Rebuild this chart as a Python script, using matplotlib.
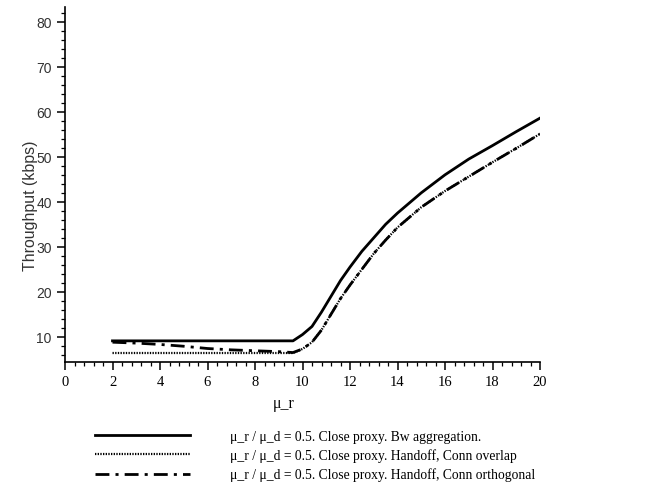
import matplotlib.pyplot as plt
from matplotlib.ticker import MultipleLocator

# mu_r sample points
mu_r = [2, 3, 4, 5, 6, 7, 8, 9, 9.6, 10, 10.4, 10.8, 11.2, 11.6, 12, 12.5,
        13, 13.5, 14, 15, 16, 17, 18, 19, 20]

# throughput (kbps) for the three schemes
bw_aggregation = [9.1, 9.1, 9.1, 9.1, 9.1, 9.1, 9.1, 9.1, 9.1, 10.5, 12.3,
                  15.5, 19.0, 22.5, 25.5, 29.0, 32.0, 35.0, 37.5, 42.0,
                  46.0, 49.5, 52.5, 55.6, 58.6]
conn_overlap = [6.4, 6.4, 6.4, 6.4, 6.4, 6.4, 6.4, 6.4, 6.4, 7.3, 8.8,
                11.5, 15.0, 18.5, 21.5, 25.0, 28.5, 31.5, 34.3, 38.8,
                42.4, 45.6, 48.8, 51.9, 55.1]
conn_orthogonal = [8.8, 8.6, 8.3, 7.9, 7.4, 7.1, 6.9, 6.7, 6.5, 7.3, 8.8,
                   11.5, 15.0, 18.5, 21.5, 25.0, 28.5, 31.5, 34.3, 38.8,
                   42.4, 45.6, 48.8, 51.9, 55.1]

labels = [
    "\u03bc_r / \u03bc_d = 0.5. Close proxy. Bw aggregation.",
    "\u03bc_r / \u03bc_d = 0.5. Close proxy. Handoff, Conn overlap",
    "\u03bc_r / \u03bc_d = 0.5. Close proxy. Handoff, Conn orthogonal",
]

serif = ["Liberation Serif", "DejaVu Serif"]
sans = ["Liberation Sans", "DejaVu Sans"]

fig = plt.figure(figsize=(6.5, 4.89), dpi=100)
ax = fig.add_axes([65 / 650, 1 - 363 / 489, 475 / 650, 355 / 489])

l1, = ax.plot(mu_r, bw_aggregation, color="black", lw=2.0, ls="-")
l2, = ax.plot(mu_r, conn_overlap, color="black", lw=1.6, ls=(0, (0.6, 0.6)))
l3, = ax.plot(mu_r, conn_orthogonal, color="black", lw=2.0,
              ls=(0, (5, 2.2, 1.1, 2.2)))

ax.set_xlim(0, 20)
ax.set_ylim(4.4, 83.3)
ax.spines["top"].set_visible(False)
ax.spines["right"].set_visible(False)
for sp in ("left", "bottom"):
    ax.spines[sp].set_linewidth(1.2)

ax.xaxis.set_major_locator(MultipleLocator(2))
ax.xaxis.set_minor_locator(MultipleLocator(0.4))
ax.yaxis.set_major_locator(MultipleLocator(10))
ax.yaxis.set_minor_locator(MultipleLocator(2))
ax.set_yticks(range(10, 81, 10))
ax.tick_params(which="major", direction="out", length=6, width=1.1)
ax.tick_params(which="minor", direction="out", length=3, width=0.9)

for t in ax.get_xticklabels():
    t.set_family(serif)
    t.set_fontsize(10.5)
for t in ax.get_yticklabels():
    t.set_family(sans)
    t.set_fontsize(10)
    t.set_color("#333333")

ax.set_xlabel("\u03bc_r", family=serif, fontsize=11.5)
ax.xaxis.set_label_coords((284 - 65) / 475, -33 / 355)
# y label sits over the tick labels
fig.text(31 / 650, 1 - 206 / 489, "Throughput (kbps)", rotation=90,
         ha="center", va="center", family=sans, fontsize=11.4,
         color="#333333")

fig.legend([l1, l2, l3], labels, loc="upper left",
           bbox_to_anchor=(95 / 650, 1 - 431 / 489), frameon=False,
           prop={"family": serif, "size": 9.8}, handlelength=7.0,
           handletextpad=2.9, labelspacing=0.4, borderpad=0,
           borderaxespad=0)

fig.savefig("out.png", dpi=100)
